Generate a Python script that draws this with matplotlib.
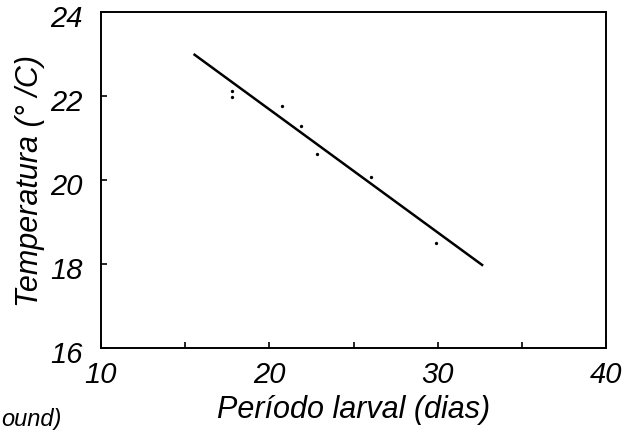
import matplotlib
matplotlib.use("Agg")
import matplotlib.pyplot as plt
import matplotlib.transforms as mtransforms
import numpy as np

# Data
periodo = [17.8, 17.8, 20.75, 21.9, 22.85, 26.05, 29.9]
temperatura = [22.12, 21.98, 21.76, 21.29, 20.62, 20.07, 18.5]
linea_x = [15.5, 32.7]
linea_y = [23.0, 17.96]
xticks = [10, 20, 30, 40]
yticks = [16, 18, 20, 22, 24]

plt.rcParams['font.family'] = ['Liberation Sans', 'DejaVu Sans']
plt.rcParams['font.style'] = 'italic'

fig = plt.figure(figsize=(6.26, 4.31), dpi=100)
ax = fig.add_axes([101/626, 1-349/431, (606-101)/626, (349-13)/431])

ax.plot(linea_x, linea_y, color='black', lw=1.8, solid_capstyle='butt')
ax.plot(periodo, temperatura, 'o', color='black', ms=2.4, mew=0)

ax.set_xlim(10, 40)
ax.set_ylim(16, 24)
ax.set_xticks(xticks)
ax.set_yticks(yticks)
ax.set_xticks([15, 25, 35], minor=True)
ax.tick_params(axis='both', which='major', direction='in', length=4, width=1.2,
               labelsize=21, colors='black')
ax.tick_params(axis='both', which='minor', direction='in', length=4, width=1.2)
ax.tick_params(axis='x', pad=9)
ax.tick_params(axis='y', pad=13)
for lbl in ax.get_xticklabels() + ax.get_yticklabels():
    lbl.set_fontstyle('italic')
off = mtransforms.ScaledTranslation(0, -3/100, fig.dpi_scale_trans)
for lbl in ax.get_yticklabels():
    lbl.set_transform(lbl.get_transform() + off)
for s in ax.spines.values():
    s.set_linewidth(1.4)

ax.set_xlabel('Período larval (dias)', fontsize=22, style='italic', labelpad=4)
ax.set_ylabel('Temperatura (° /C)', fontsize=22, style='italic', labelpad=4)

fig.text(1/626, 1-420/431, 'ound)', fontsize=17, style='italic', ha='left', va='center')

fig.savefig('out.png', dpi=100)
